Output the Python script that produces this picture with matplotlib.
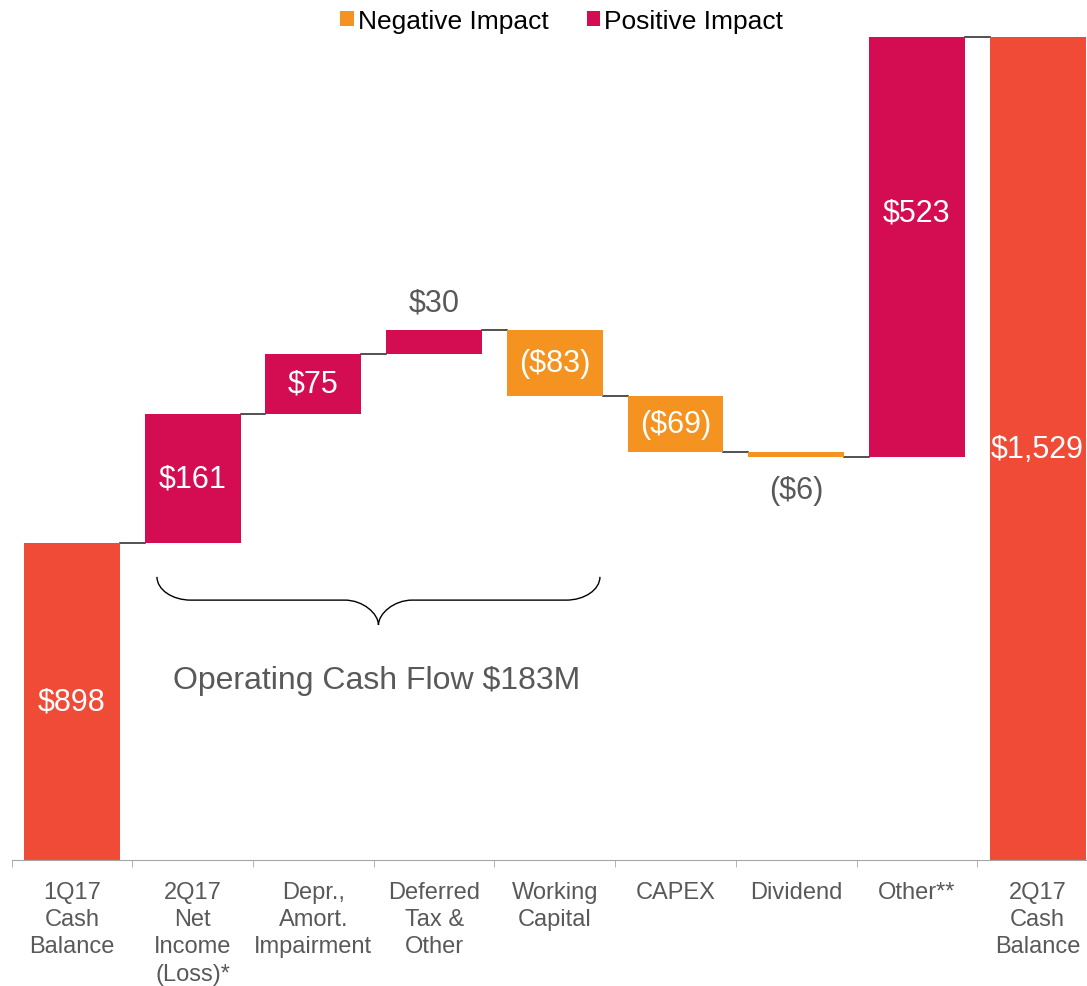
import numpy as np
import matplotlib.pyplot as plt
from matplotlib.patches import Patch, PathPatch
from matplotlib.path import Path

plt.rcParams['font.family'] = ['Liberation Sans', 'DejaVu Sans']

# data
categories = ['1Q17\nCash\nBalance', '2Q17\nNet\nIncome\n(Loss)*', 'Depr.,\nAmort.\nImpairment',
              'Deferred\nTax &\nOther', 'Working\nCapital', 'CAPEX', 'Dividend', 'Other**',
              '2Q17\nCash\nBalance']
changes = [898, 161, 75, 30, -83, -69, -6, 523, 1529]
kinds = ['total', 'delta', 'delta', 'delta', 'delta', 'delta', 'delta', 'delta', 'total']
value_labels = ['$898', '$161', '$75', '$30', '($83)', '($69)', '($6)', '$523', '$1,529']
label_outside = [False, False, False, True, False, False, True, False, False]
ocf_text = 'Operating Cash Flow $183M'

RED = '#F04B37'
MAGENTA = '#D40C52'
ORANGE = '#F59321'
GRAY_TXT = '#595959'

fig = plt.figure(figsize=(10.87, 9.87), dpi=100)
# axis runs a little past the right edge of the figure, like the original slide
ax = fig.add_axes([11.65 / 1087, 126 / 987, 1086.3 / 1087, 831 / 987])

x = np.arange(len(categories))
width = 0.795
bottoms, tops = [], []
running = 0
for k, c in zip(kinds, changes):
    if k == 'total':
        b, t = 0, c
        running = c
    else:
        b, t = running, running + c
        running = t
    bottoms.append(min(b, t))
    tops.append(max(b, t))

colors = []
for k, c in zip(kinds, changes):
    if k == 'total':
        colors.append(RED)
    elif c >= 0:
        colors.append(MAGENTA)
    else:
        colors.append(ORANGE)

heights = np.array(tops) - np.array(bottoms)
ax.bar(x, heights, bottom=bottoms, width=width, color=colors, zorder=2)

ylo, yhi = 503, 1539
ax.set_ylim(ylo, yhi)
ax.set_xlim(-0.5, len(categories) - 0.5)

# connectors
levels = []
running = 0
for k, c in zip(kinds, changes):
    running = c if k == 'total' else running + c
    levels.append(running)
for i in range(len(categories) - 1):
    ax.plot([i + width / 2, i + 1 - width / 2], [levels[i], levels[i]],
            color='#333333', lw=1.2, zorder=1)

# value labels
nudge = {7: 25}  # points, the "Other" label sits above centre
for i, lab in enumerate(value_labels):
    if label_outside[i]:
        if changes[i] >= 0:
            ax.annotate(lab, (x[i], tops[i]), xytext=(0, 20), textcoords='offset points',
                        ha='center', va='center', fontsize=22, color=GRAY_TXT)
        else:
            ax.annotate(lab, (x[i], bottoms[i]), xytext=(0, -24), textcoords='offset points',
                        ha='center', va='center', fontsize=22, color=GRAY_TXT)
    else:
        yc = (max(bottoms[i], ylo) + tops[i]) / 2
        ax.annotate(lab, (x[i], yc), xytext=(0, nudge.get(i, 0)), textcoords='offset points',
                    ha='center', va='center', fontsize=22, color='white')

# brace under operating items
def brace(ax, x0, x1, ytop, ymid, ytip, rx):
    xc = (x0 + x1) / 2
    k = 0.55
    verts = [
        (x0, ytop), (x0, ytop - k * (ytop - ymid)), (x0 + rx * (1 - k), ymid), (x0 + rx, ymid),
        (xc - rx, ymid),
        (xc - rx * (1 - k), ymid), (xc, ymid - k * (ymid - ytip)), (xc, ytip),
        (xc, ymid - k * (ymid - ytip)), (xc + rx * (1 - k), ymid), (xc + rx, ymid),
        (x1 - rx, ymid),
        (x1 - rx * (1 - k), ymid), (x1, ytop - k * (ytop - ymid)), (x1, ytop),
    ]
    codes = [Path.MOVETO, Path.CURVE4, Path.CURVE4, Path.CURVE4,
             Path.LINETO,
             Path.CURVE4, Path.CURVE4, Path.CURVE4,
             Path.CURVE4, Path.CURVE4, Path.CURVE4,
             Path.LINETO,
             Path.CURVE4, Path.CURVE4, Path.CURVE4]
    ax.add_patch(PathPatch(Path(verts, codes), fill=False, edgecolor='black', lw=1.0))

brace(ax, 0.704, 4.374, 856, 827, 796, 0.28)
ax.text(2.52, 728, ocf_text, ha='center', va='center', fontsize=23, color=GRAY_TXT)

# axes styling
for s in ['top', 'right', 'left']:
    ax.spines[s].set_visible(False)
ax.spines['bottom'].set_color('#A6A6A6')
ax.set_yticks([])
ax.set_xticks(x)
ax.set_xticklabels(categories, fontsize=17, color=GRAY_TXT, linespacing=1.31)
ax.set_xticks(np.arange(-0.5, len(categories)), minor=True)
ax.tick_params(axis='x', which='major', length=0, pad=15)
ax.tick_params(axis='x', which='minor', length=5, color='#A6A6A6', direction='out')

handles = [Patch(facecolor=ORANGE, label='Negative Impact'),
           Patch(facecolor=MAGENTA, label='Positive Impact')]
fig.legend(handles=handles, loc='center', bbox_to_anchor=(0.5166, 0.978), ncol=2,
           frameon=False, fontsize=19, handlelength=0.5, handleheight=0.5,
           handletextpad=0.15, columnspacing=1.45, borderpad=0)

fig.savefig('out.png', dpi=100)
